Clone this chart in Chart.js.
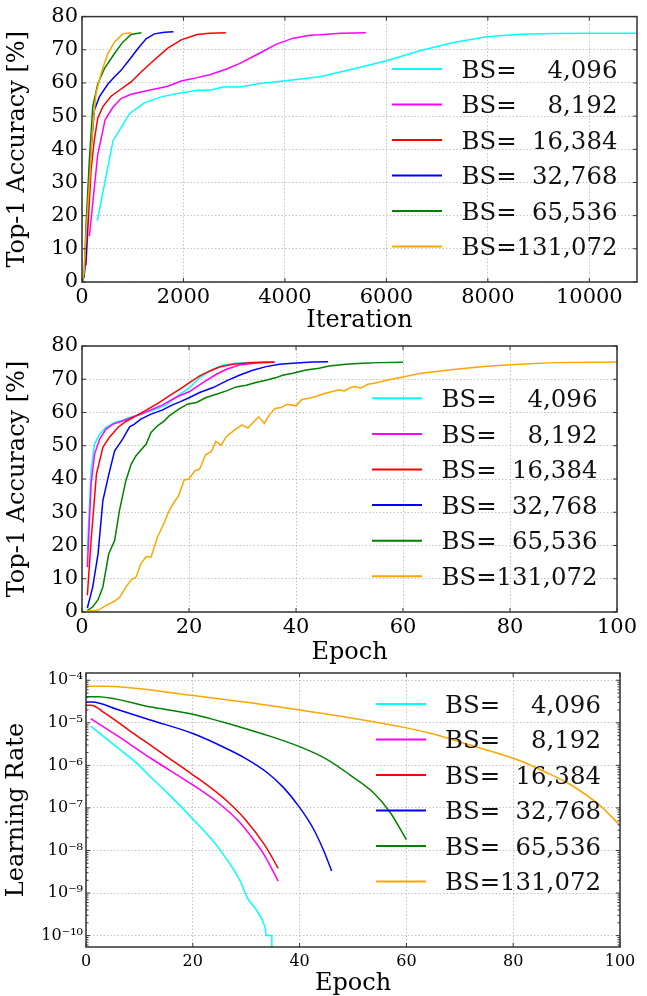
<!DOCTYPE html>
<html>
<head>
<meta charset="utf-8">
<script src="https://cdn.jsdelivr.net/npm/chart.js@4.4.1/dist/chart.umd.min.js"></script>
<style>
html,body{margin:0;padding:0;background:#fff;overflow:hidden;width:647px;height:996px;}
canvas{position:absolute;left:0;top:0;}
</style>
</head>
<body>
<canvas id="c1" width="647" height="1000"></canvas>
<canvas id="c2" width="647" height="1000"></canvas>
<canvas id="c3" width="647" height="1000"></canvas>
<script>
// ---------- shared ----------
const bsLabels = ['4,096', '8,192', '16,384', '32,768', '65,536', '131,072'];
const bsColors = ['#00ffff', '#ff00ff', '#ff0000', '#0000ff', '#008000', '#ffa500'];
const iterTicks = [0, 2000, 4000, 6000, 8000, 10000];
const epochTicks = [0, 20, 40, 60, 80, 100];
const accTicks = [0, 10, 20, 30, 40, 50, 60, 70, 80];

// ---------- chart 1: accuracy vs iteration [iteration, top-1 %] ----------
const it4096 = [[303,18.5],[612,42.6],[941,50.8],[1230,54.0],[1560,55.8],[1888,56.8],[2270,57.8],[2520,57.8],[2783,58.8],[3112,58.8],[3507,59.8],[3968,60.6],[4688,61.9],[5345,64.2],[6004,66.7],[6661,69.7],[7318,72.2],[7976,73.9],[8633,74.7],[9290,74.9],[10000,75.0],[10950,75.0]];
const it8192 = [[145,13.8],[309,38.3],[454,48.8],[605,52.6],[770,55.3],[967,56.6],[1230,57.5],[1691,59.0],[1954,60.6],[2270,61.6],[2520,62.5],[2849,64.2],[3112,65.9],[3441,68.5],[3836,71.7],[4165,73.5],[4494,74.4],[4688,74.5],[5100,75.0],[5596,75.1]];
const it16384 = [[78,5.0],[178,33.8],[243,42.8],[309,49.3],[408,52.8],[572,56.0],[737,57.8],[967,60.3],[1165,63.3],[1428,67.0],[1691,70.5],[1954,73.0],[2270,74.6],[2520,75.0],[2836,75.1]];
const it32768 = [[39,1.3],[80,7.5],[145,33.8],[243,51.8],[342,55.8],[507,59.6],[638,61.8],[770,63.8],[934,67.0],[1099,70.3],[1263,73.3],[1428,74.8],[1625,75.3],[1803,75.4]];
const it65536 = [[20,0.3],[45,3.0],[79,16.8],[145,36.8],[211,52.8],[309,59.6],[441,64.3],[638,68.8],[803,72.3],[967,74.6],[1172,75.1]];
const it131072 = [[10,0.3],[40,3.0],[79,13.8],[145,29.8],[211,46.8],[276,56.8],[375,62.8],[507,68.8],[638,72.3],[803,74.8],[977,75.1]];

// ---------- chart 2: accuracy vs epoch [epoch, top-1 %] ----------
const ep4096 = [[1,18.5],[1.7,42.5],[2.35,50.5],[3.3,53.5],[4.5,55.5],[6.1,57.0],[7.6,57.7],[8.9,58.5],[10.7,59.3],[13.2,60.7],[15.7,62.2],[18.3,65.5],[20.1,67.5],[22.0,70.5],[24.5,73.0],[26.3,74.2],[28.8,74.8],[31.9,75.1],[35,75.2]];
const ep8192 = [[1,13.5],[1.7,38.5],[2.35,47.5],[3.3,52.0],[4.5,55.0],[5.8,56.5],[7.3,57.3],[8.9,58.3],[10.7,59.3],[13.2,61.0],[15.0,62.2],[17.5,64.5],[20.1,66.3],[22.6,69.0],[25.1,71.5],[27.0,73.0],[29.4,74.3],[32.5,74.9],[36,75.1]];
const ep16384 = [[1,5.0],[1.7,21.5],[2.7,41.5],[3.9,49.5],[5.1,52.5],[6.7,55.5],[8.2,57.3],[10.1,59.0],[12.0,60.7],[14.4,63.0],[16.3,65.0],[18.3,67.0],[20.1,69.0],[22.0,71.0],[23.9,72.5],[25.7,73.7],[28.2,74.5],[30.7,74.9],[33.8,75.1],[36,75.2]];
const ep32768 = [[1,1.2],[2,7.5],[3,17.5],[3.9,33.5],[5.1,42.0],[6.1,48.5],[7.6,52.0],[8.9,55.7],[9.8,56.5],[11.0,58.0],[12.9,59.5],[15.0,60.7],[16.9,62.3],[18.3,63.2],[20.1,64.5],[22.0,66.0],[24.5,67.5],[27.0,69.5],[29.4,71.2],[31.9,72.7],[34.4,73.8],[36.9,74.5],[40.0,74.9],[43.1,75.2],[46,75.3]];
const ep65536 = [[1,0.5],[2,1.5],[3,3.7],[3.9,7.5],[5.0,17.5],[6.1,21.5],[7.0,30.5],[8.2,39.5],[9.2,44.5],[10.1,47.0],[12.0,50.5],[12.9,54.0],[14.1,56.0],[15.4,57.5],[16.3,59.0],[18.1,61.0],[19.7,62.5],[21.4,63.0],[23.2,64.5],[25.1,65.5],[27.0,66.5],[28.8,67.7],[30.7,68.2],[32.5,69.0],[34.4,69.7],[36.3,70.5],[37.5,71.2],[39.4,71.8],[41.9,72.8],[44.3,73.3],[46.2,74.0],[49.3,74.5],[52.4,74.8],[55.5,75.0],[60,75.1]];
const ep131072 = [[1,0.3],[3,0.5],[4.5,2.0],[5.8,3.0],[7,4.3],[8.2,7.5],[9.2,9.7],[10.1,10.5],[11,14.5],[12,16.7],[12.9,16.5],[14.1,22.5],[15.4,27.0],[16.3,30.5],[17.2,33.0],[18,34.8],[19.1,39.7],[20,40.0],[21.1,42.5],[22,43.0],[23.1,47.3],[24.2,48.3],[25,51.3],[26,50.2],[27,52.8],[28.5,54.7],[29.9,56.3],[31,55.3],[33,58.7],[34.1,56.7],[35,59.3],[36.1,61.2],[37.2,61.5],[38.4,62.5],[40,62.0],[41.1,63.9],[42.5,64.3],[43.7,64.8],[45.3,65.7],[46.8,66.3],[48.1,66.8],[49,66.5],[50.2,67.5],[51.2,67.8],[52.1,67.3],[53.4,68.5],[54.9,68.9],[56.9,69.7],[60,70.7],[63.1,71.7],[69.4,72.9],[75.6,73.9],[81.9,74.5],[88.1,75.0],[100,75.2]];

// ---------- chart 3: learning rate vs epoch [epoch, lr] ----------
const lr4096 = [[0.9,8.3e-6],[5.9,2.6e-6],[9.7,1.07e-6],[12.2,5.2e-7],[15.3,2.2e-7],[20,5.5e-8],[24.7,1.2e-8],[28.8,2.0e-9],[30.3,7.4e-10],[31.9,4.0e-10],[33.5,1.6e-10],[33.8,1.0e-10],[34.8,1.0e-10],[34.85,1e-12]];
const lr8192 = [[0.9,1.26e-5],[5.9,4.9e-6],[12.2,1.45e-6],[20,3.47e-7],[24.7,1.34e-7],[28.5,5.0e-8],[30.8,2.24e-8],[33.5,7.4e-9],[36,1.9e-9]];
const lr16384 = [[0,2.6e-5],[1,2.6e-5],[3.4,1.74e-5],[5.9,1.05e-5],[9,5.5e-6],[12.2,2.9e-6],[15.3,1.55e-6],[20,6.0e-7],[23.4,2.95e-7],[26.6,1.38e-7],[29.7,5.6e-8],[33.5,1.32e-8],[36,3.8e-9]];
const lr32768 = [[0,3.1e-5],[1.2,3.1e-5],[5.9,2.05e-5],[12.2,1.15e-5],[20,5.6e-6],[26,2.6e-6],[29.7,1.5e-6],[33.9,6.8e-7],[37,3.0e-7],[40,1.03e-7],[42.6,3.2e-8],[44.5,1.0e-8],[46,3.3e-9]];
const lr65536 = [[0,4.1e-5],[2.1,4.1e-5],[12.2,2.34e-5],[20,1.58e-5],[30.8,6.7e-6],[35,4.6e-6],[40,2.75e-6],[45.1,1.39e-6],[49.4,6.0e-7],[53.8,2.3e-7],[56.9,8.0e-8],[60,1.8e-8]];
const lr131072 = [[0,7.2e-5],[3,7.2e-5],[20,4.4e-5],[30.8,2.95e-5],[40,2.0e-5],[49.4,1.32e-5],[60,7.6e-6],[64.3,5.75e-6],[71.9,3.0e-6],[81.3,1.28e-6],[86,7.0e-7],[90.6,3.6e-7],[96.3,1.12e-7],[100,3.9e-8]];
const lrTickValues = [1e-10, 1e-9, 1e-8, 1e-7, 1e-6, 1e-5, 1e-4];
const lrTickLabels = ['10⁻¹⁰', '10⁻⁹', '10⁻⁸', '10⁻⁷', '10⁻⁶', '10⁻⁵', '10⁻⁴'];

// ---------- rendering ----------
Chart.defaults.font.family = "'DejaVu Serif', 'Liberation Serif', serif";
Chart.defaults.color = '#000';

const framePlugin = {
  id: 'frame',
  afterDatasetsDraw(chart, args, opts) {
    const {ctx, chartArea: a, scales} = chart;
    ctx.save();
    ctx.strokeStyle = '#333';
    ctx.lineWidth = 1;
    const tl = 4;
    ctx.beginPath();
    scales.x.ticks.forEach(t => {
      const px = scales.x.getPixelForValue(t.value);
      ctx.moveTo(px, a.bottom); ctx.lineTo(px, a.bottom - tl);
      ctx.moveTo(px, a.top); ctx.lineTo(px, a.top + tl);
    });
    scales.y.ticks.forEach(t => {
      const py = scales.y.getPixelForValue(t.value);
      ctx.moveTo(a.left, py); ctx.lineTo(a.left + tl, py);
      ctx.moveTo(a.right, py); ctx.lineTo(a.right - tl, py);
    });
    if (scales.y.type === 'logarithmic') {
      const lo = Math.floor(Math.log10(scales.y.min)), hi = Math.ceil(Math.log10(scales.y.max));
      for (let d = lo; d <= hi; d++) {
        for (let m = 2; m <= 9; m++) {
          const v = m * Math.pow(10, d);
          if (v < scales.y.min || v > scales.y.max) continue;
          const py = scales.y.getPixelForValue(v);
          ctx.moveTo(a.left, py); ctx.lineTo(a.left + 2.5, py);
          ctx.moveTo(a.right, py); ctx.lineTo(a.right - 2.5, py);
        }
      }
    }
    ctx.stroke();
    ctx.lineWidth = 1.5;
    ctx.strokeRect(a.left, a.top, a.right - a.left, a.bottom - a.top);
    if (opts && opts.y0 != null) {
      ctx.font = opts.size + "px 'DejaVu Serif'";
      ctx.textAlign = 'left';
      ctx.textBaseline = 'alphabetic';
      bsLabels.forEach((lab, i) => {
        const y = opts.y0 + i * opts.dy;
        ctx.strokeStyle = bsColors[i];
        ctx.lineWidth = 2;
        ctx.beginPath(); ctx.moveTo(opts.x0, y); ctx.lineTo(opts.x1, y); ctx.stroke();
        ctx.fillStyle = '#111';
        ctx.fillText('BS=' + ' '.repeat(2 * (7 - lab.length)) + lab, opts.tx, y + 0.36 * opts.size);
      });
    }
    ctx.restore();
  }
};

function mkDatasets(series, smooth) {
  return series.map((pts, i) => ({
    label: 'BS=' + bsLabels[i],
    data: pts.map(p => ({x: p[0], y: p[1]})),
    borderColor: bsColors[i],
    backgroundColor: bsColors[i],
    borderWidth: 1.5,
    pointRadius: 0,
    tension: 0,
    cubicInterpolationMode: smooth ? 'monotone' : 'default',
    fill: false,
    order: series.length - i
  }));
}

const gridOpts = {color: '#b4b4b4', lineWidth: 0.8, drawTicks: false};
const borderOpts = {display: false, dash: [1.5, 2]};

function xScale(min, max, tickArr, fs, pad, h, title) {
  return {
    type: 'linear', position: 'bottom', min: min, max: max,
    afterBuildTicks: s => { s.ticks = tickArr.map(v => ({value: v})); },
    ticks: {autoSkip: false, maxRotation: 0, padding: pad,
            font: {size: fs}, color: '#000', callback: v => String(v)},
    grid: gridOpts, border: borderOpts,
    title: {display: true, text: title, font: {size: 24}, color: '#000', padding: 0},
    afterFit: s => { s.height = h; }
  };
}

function yLinear(w, title, tpad) {
  return {
    type: 'linear', position: 'left', min: 0, max: 80,
    afterBuildTicks: s => { s.ticks = accTicks.map(v => ({value: v})); },
    ticks: {autoSkip: false, padding: 4, font: {size: 21}, color: '#000', callback: v => String(v)},
    grid: gridOpts, border: borderOpts,
    title: {display: true, text: title, font: {size: 24}, color: '#000', padding: {top: tpad, bottom: 0}},
    afterFit: s => { s.width = w; }
  };
}

function baseOpts(pad, scales, legend) {
  return {
    responsive: false, animation: false,
    layout: {padding: pad},
    scales: scales,
    plugins: {legend: {display: false}, tooltip: {enabled: false}, frame: legend}
  };
}

// chart 1
new Chart(document.getElementById('c1'), {
  type: 'line',
  data: {datasets: mkDatasets([it4096, it8192, it16384, it32768, it65536, it131072], false)},
  options: baseOpts({left: 0, right: 10, top: 16, bottom: 1000 - 282 - 53},
    {x: xScale(0, 10940, iterTicks, 21, 3, 53, 'Iteration'), y: yLinear(82, 'Top-1 Accuracy [%]', 3)},
    {x0: 392, x1: 442, tx: 461.5, y0: 69, dy: 35.5, size: 24.4}),
  plugins: [framePlugin]
});

// chart 2
new Chart(document.getElementById('c2'), {
  type: 'line',
  data: {datasets: mkDatasets([ep4096, ep8192, ep16384, ep32768, ep65536, ep131072], false)},
  options: baseOpts({left: 0, right: 30, top: 346, bottom: 1000 - 612 - 55},
    {x: xScale(0, 100, epochTicks, 21, 3, 55, 'Epoch'), y: yLinear(82, 'Top-1 Accuracy [%]', 3)},
    {x0: 372, x1: 422, tx: 441.5, y0: 398.3, dy: 35.6, size: 24.4}),
  plugins: [framePlugin]
});

// chart 3
new Chart(document.getElementById('c3'), {
  type: 'line',
  data: {datasets: mkDatasets([lr4096, lr8192, lr16384, lr32768, lr65536, lr131072], true)},
  options: baseOpts({left: 0, right: 27, top: 673, bottom: 1000 - 947 - 51},
    {
      x: xScale(0, 100, epochTicks, 16, 5, 51, 'Epoch'),
      y: {
        type: 'logarithmic', position: 'left', min: 5.4e-11, max: 1.48e-4,
        afterBuildTicks: s => { s.ticks = lrTickValues.map(v => ({value: v, major: true})); },
        ticks: {autoSkip: false, padding: 3, font: {size: 16}, color: '#000', callback: (v, i) => lrTickLabels[i]},
        grid: gridOpts, border: borderOpts,
        title: {display: true, text: 'Learning Rate', font: {size: 24}, color: '#000', padding: {top: 2, bottom: 0}},
        afterFit: s => { s.width = 86; }
      }
    },
    {x0: 376, x1: 426, tx: 445, y0: 704, dy: 35.5, size: 24.4}),
  plugins: [framePlugin]
});
</script>
</body>
</html>
